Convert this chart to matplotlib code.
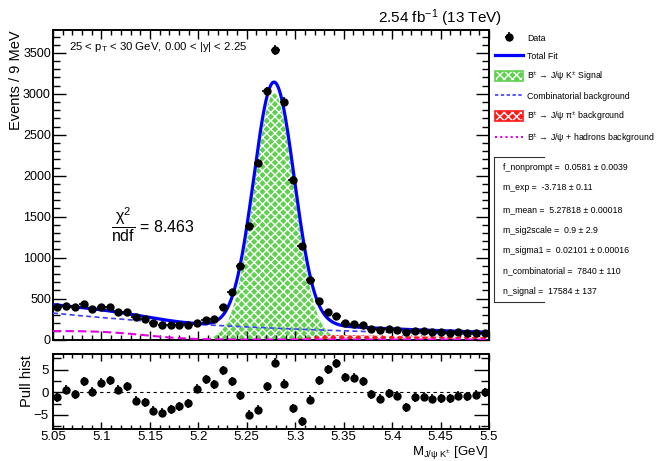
import math
import numpy as np
import matplotlib
matplotlib.use("Agg")
import matplotlib.pyplot as plt
from matplotlib.patches import Patch
from matplotlib.lines import Line2D
from matplotlib.ticker import MultipleLocator, FuncFormatter

plt.rcParams['font.family'] = ['Liberation Sans', 'DejaVu Sans']
plt.rcParams['mathtext.fontset'] = 'custom'
plt.rcParams['mathtext.rm'] = 'Liberation Sans'
plt.rcParams['mathtext.it'] = 'Liberation Sans:italic'
plt.rcParams['mathtext.bf'] = 'Liberation Sans:bold'
plt.rcParams['mathtext.default'] = 'regular'
plt.rcParams['hatch.linewidth'] = 1.0

W, H = 661, 461
M_LO, M_HI, NBINS = 5.05, 5.5, 50

# events per 9 MeV bin
counts = [399, 415, 394, 439, 374, 402, 402, 341, 333, 272,
          252, 203, 179, 179, 179, 179, 207, 236, 250, 403,
          577, 902, 1390, 2155, 3033, 3537, 2906, 1951, 1138, 728,
          472, 337, 293, 204, 195, 179, 130, 118, 130, 118,
          94, 98, 106, 94, 94, 85, 90, 85, 77, 85]

pulls = [-1.1, 0.5, -0.4, 2.4, 0.1, 2.1, 2.7, 0.5, 1.3, -1.9,
         -2.2, -4.1, -4.6, -3.8, -3.1, -2.4, 0.8, 2.9, 1.8, 4.9,
         2.4, -0.7, -5.0, -3.9, 1.3, 6.6, 1.9, -3.6, -6.4, -1.7,
         2.7, 5.1, 6.4, 3.3, 3.2, 2.4, -0.4, -1.4, -0.2, -0.8,
         -3.3, -1.1, -1.0, -1.4, -1.3, -1.3, -0.8, -0.9, -0.6, 0.0]

# fit results
M_EXP = -3.718
M_MEAN = 5.27818
M_SIGMA1 = 0.02101
N_COMB = 7840
N_SIGNAL = 17584
CHI2_NDF = 8.463

# partially reconstructed / misid shapes
HAD_AMP, HAD_EDGE, HAD_WIDTH = 104.0, 5.145, 0.05
PI_AMP, PI_PEAK, PI_RISE, PI_TAIL = 55.0, 5.34, 0.02, 0.24

fit_params = [
    ("f_nonprompt", "0.0581", "0.0039"),
    ("m_exp", "-3.718", "0.11"),
    ("m_mean", "5.27818", "0.00018"),
    ("m_sig2scale", "0.9", "2.9"),
    ("m_sigma1", "0.02101", "0.00016"),
    ("n_combinatorial", "7840", "110"),
    ("n_signal", "17584", "137"),
]

edges = np.linspace(M_LO, M_HI, NBINS + 1)
centers = 0.5 * (edges[1:] + edges[:-1])
bin_w = edges[1] - edges[0]


def signal(m):
    return N_SIGNAL * bin_w / (np.sqrt(2 * np.pi) * M_SIGMA1) * np.exp(-0.5 * ((m - M_MEAN) / M_SIGMA1) ** 2)


def combinatorial(m):
    return N_COMB * bin_w * M_EXP * np.exp(M_EXP * m) / (np.exp(M_EXP * M_HI) - np.exp(M_EXP * M_LO))


def hadrons(m):
    erf = np.vectorize(math.erf)
    return HAD_AMP * 0.5 * (1 - erf((m - HAD_EDGE) / HAD_WIDTH))


def pion(m):
    rise = PI_AMP * np.exp(-0.5 * ((m - PI_PEAK) / PI_RISE) ** 2)
    tail = PI_AMP * np.exp(-(m - PI_PEAK) / PI_TAIL)
    return np.where(m < PI_PEAK, rise, tail)


mm = np.linspace(M_LO, M_HI, 800)
sig_y = signal(mm)
comb_y = combinatorial(mm)
had_y = hadrons(mm)
pi_y = pion(mm)
total_y = sig_y + comb_y + had_y + pi_y

fig = plt.figure(figsize=(W / 100, H / 100), dpi=100)
ax = fig.add_axes([53 / W, 1 - 339.5 / H, 436 / W, 309.5 / H])
axp = fig.add_axes([53 / W, 1 - 428.5 / H, 436 / W, 75 / H])

green = '#5fd14f'
red = '#ff1a1a'
ax.fill_between(mm, 0, sig_y, facecolor=green, edgecolor='white', hatch='xxxx', linewidth=0, zorder=1)
ax.fill_between(mm, 0, pi_y, facecolor=red, edgecolor='white', hatch='xxxx', linewidth=0, zorder=2)
ax.plot(mm, comb_y, color='#3c3cff', lw=1.2, ls=(0, (3, 2)), zorder=3)
ax.plot(mm, had_y, color='#e000e0', lw=1.5, ls=(0, (4, 2)), zorder=3)
ax.plot(mm, total_y, color='#0000ff', lw=2.3, zorder=4)
data = ax.errorbar(centers, counts, yerr=np.sqrt(counts), xerr=bin_w / 2, fmt='o', color='black',
                   ms=5, elinewidth=1.2, capsize=0, zorder=5)

ax.set_xlim(M_LO, M_HI)
ax.set_ylim(0, 3780)
ax.xaxis.set_major_locator(MultipleLocator(0.05))
ax.xaxis.set_minor_locator(MultipleLocator(0.01))
ax.yaxis.set_major_locator(MultipleLocator(500))
ax.yaxis.set_minor_locator(MultipleLocator(100))
ax.tick_params(which='both', direction='in', top=True, right=True, labelbottom=False, labelsize=9, pad=1.5)
ax.tick_params(axis='y', which='major', length=9.5, width=1)
ax.tick_params(axis='y', which='minor', length=5, width=1)
ax.tick_params(axis='x', which='major', length=6.5, width=1)
ax.tick_params(axis='x', which='minor', length=3.5, width=1)

axp.errorbar(centers, pulls, yerr=1.0, fmt='o', color='black', ms=5, elinewidth=1.2, capsize=0, zorder=5)
axp.axhline(0, color='black', lw=0.8, ls=(0, (3, 3)), zorder=1)
axp.set_xlim(M_LO, M_HI)
axp.set_ylim(-8.05, 8.6)
axp.xaxis.set_major_locator(MultipleLocator(0.05))
axp.xaxis.set_minor_locator(MultipleLocator(0.01))
axp.xaxis.set_major_formatter(FuncFormatter(lambda v, p: '%g' % round(v, 2)))
axp.yaxis.set_major_locator(MultipleLocator(5))
axp.yaxis.set_minor_locator(MultipleLocator(2.5))
axp.tick_params(which='both', direction='in', top=True, right=True, labelsize=9.5)
axp.tick_params(axis='y', which='major', length=10.5, width=1, pad=3)
axp.tick_params(axis='y', which='minor', length=5.5, width=1)
axp.tick_params(axis='x', which='major', length=5, width=1, pad=2)
axp.tick_params(axis='x', which='minor', length=3, width=1)

for a in (ax, axp):
    for s in a.spines.values():
        s.set_linewidth(1.4)


def fx(px):
    return px / W


def fy(py):
    return 1 - py / H


fig.text(fx(502), fy(18), r'2.54 fb$^{-1}$ (13 TeV)', ha='right', va='center', fontsize=11)
fig.text(fx(16), fy(30), 'Events / 9 MeV', rotation=90, ha='center', va='top', fontsize=10.5)
fig.text(fx(27), fy(381), 'Pull hist', rotation=90, ha='center', va='center', fontsize=10.5)
fig.text(fx(489), fy(460.5), r'M$_{\rm J/\psi\ K^{\pm}}$ [GeV]', ha='right', va='bottom', fontsize=9.5)
fig.text(fx(69), fy(47), r'25 < p$_{\rm T}$ < 30 GeV, 0.00 < |y| < 2.25', ha='left', va='center', fontsize=8.2)
fig.text(fx(111), fy(225), r'$\dfrac{\chi^{2}}{\rm ndf}$ = %.3f' % CHI2_NDF, ha='left', va='center', fontsize=11.5)

# legend
sig_handle = (Patch(facecolor=green, edgecolor='white', hatch='xxxx', lw=0),
              Patch(facecolor='none', edgecolor=green, lw=1.2))
pi_handle = (Patch(facecolor=red, edgecolor='white', hatch='xxxx', lw=0),
             Patch(facecolor='none', edgecolor=red, lw=1.2))
handles = [data,
           Line2D([], [], color='#0000ff', lw=2.3),
           sig_handle,
           Line2D([], [], color='#3c3cff', lw=1.2, ls=(0, (2, 1.5))),
           pi_handle,
           Line2D([], [], color='#e000e0', lw=1.5, ls=(0, (1, 1.5)))]
labels = ['Data', 'Total Fit',
          'B$^{\\pm}$ → J/ψ K$^{\\pm}$ Signal',
          'Combinatorial background',
          'B$^{\\pm}$ → J/ψ π$^{\\pm}$ background',
          'B$^{\\pm}$ → J/ψ + hadrons background']
fig.legend(handles, labels, loc='upper left', bbox_to_anchor=(fx(495), fy(33)), frameon=False,
           fontsize=6.3, handlelength=3.2, handleheight=1.3, handletextpad=0.45, labelspacing=0.95,
           borderaxespad=0, borderpad=0)

# fit parameter box
box_x0, box_x1, box_y0, box_y1 = 494, 544, 157, 302
for xs, ys in [((box_x0, box_x0), (box_y0, box_y1)),
               ((box_x0, box_x1), (box_y0, box_y0)),
               ((box_x0, box_x1), (box_y1, box_y1))]:
    fig.add_artist(Line2D([fx(x) for x in xs], [fy(y) for y in ys], transform=fig.transFigure,
                          color='#333333', lw=0.8))
row_y = [167, 188, 210, 230, 250, 271, 291]
for (name, val, err), y in zip(fit_params, row_y):
    fig.text(fx(503), fy(y), '%s =  %s ± %s' % (name, val, err), ha='left', va='center', fontsize=6.3)

fig.savefig('out.png', dpi=100)
